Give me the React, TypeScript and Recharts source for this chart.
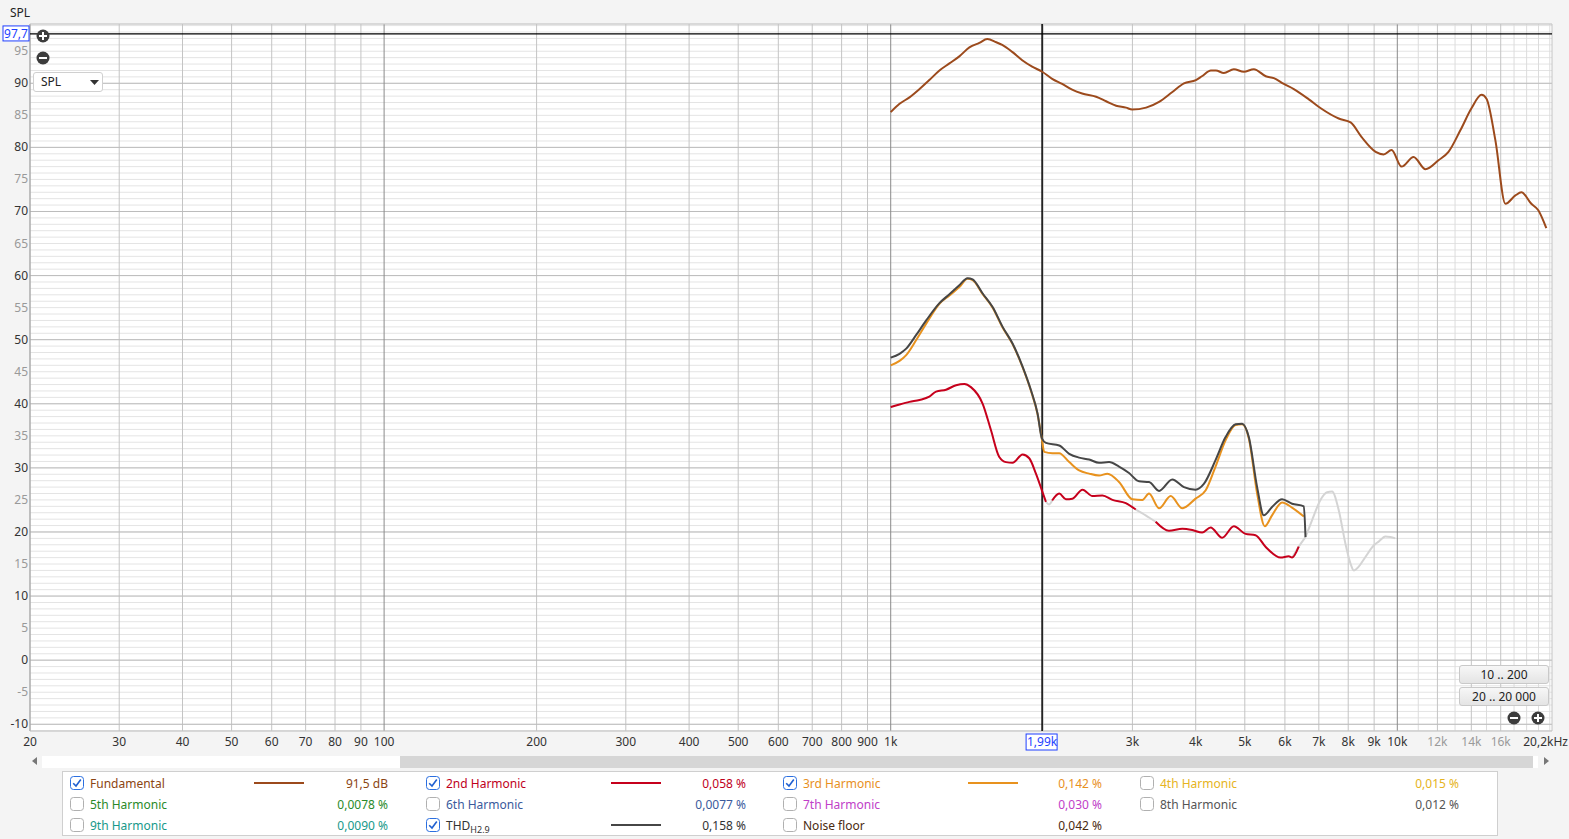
import React from "react";
import {
  LineChart,
  Line,
  XAxis,
  YAxis,
  CartesianGrid,
  ReferenceLine,
} from "recharts";

// frequency (Hz) / level (dB) pairs
const fundFreq = [
  1000, 1041, 1089, 1140, 1192, 1248, 1306, 1366, 1430, 1496, 1551, 1616, 1660,
  1737, 1818, 1902, 1991, 2083, 2180, 2281, 2387, 2544, 2662, 2786, 2915, 2996,
  3192, 3386, 3592, 3792, 4004, 4114, 4286, 4384, 4546, 4757, 4978, 5209, 5500,
  5706, 5971, 6248, 6689, 7062, 7663, 8089, 8504, 9063, 9398, 9744, 10196,
  10767, 11368, 12060, 12619, 13326, 14008, 14665, 14998, 15618, 16346, 17104,
  17576, 18388, 18982, 19684,
];
const fundDb = [
  85.5, 86.8, 87.8, 89.1, 90.5, 92.0, 93.1, 94.2, 95.6, 96.3, 96.9, 96.4, 96.0,
  94.9, 93.6, 92.6, 91.8, 90.7, 89.9, 89.0, 88.4, 87.9, 87.2, 86.5, 86.2, 85.9,
  86.2, 87.1, 88.6, 90.0, 90.5, 91.1, 92.0, 92.0, 91.6, 92.2, 91.8, 92.2, 91.1,
  90.8, 89.9, 89.1, 87.5, 86.1, 84.5, 83.9, 81.6, 79.3, 78.9, 79.6, 77.0, 78.5,
  76.6, 78.0, 79.3, 82.7, 86.1, 88.2, 87.6, 81.1, 71.2, 72.5, 73.0, 71.2, 70.2,
  67.4,
];

const thdFreq = [
  1000, 1041, 1073, 1122, 1175, 1248, 1306, 1366, 1418, 1451, 1519, 1589, 1663,
  1740, 1821, 1892, 1949, 1988, 2025, 2151, 2251, 2355, 2464, 2578, 2698, 2823,
  2954, 3092, 3235, 3386, 3596, 3792, 3998, 4151, 4377, 4581, 4794, 4940, 5092,
  5288, 5451, 5659, 5923, 6198, 6539, 6588,
];
const thdDb = [
  47.2, 47.8, 48.6, 50.7, 53.0, 55.7, 57.1, 58.5, 59.6, 59.4, 57.2, 55.1, 52.0,
  49.4, 45.8, 42.1, 38.5, 34.6, 33.9, 33.5, 32.2, 31.6, 31.3, 30.8, 30.9, 30.2,
  29.2, 27.9, 27.8, 26.4, 28.2, 27.0, 26.6, 27.5, 31.2, 34.8, 36.8, 36.9, 34.8,
  27.0, 22.6, 23.9, 25.1, 24.4, 24.0, 19.2,
];

// THD below the noise floor (drawn light grey)
const thdLowFreq = [
  6588, 6786, 7052, 7266, 7434, 7663, 7898, 8081, 8204, 8392, 8650, 8982, 9188,
  9472, 9690, 9910,
];
const thdLowDb = [
  19.2, 21.8, 25.0, 26.2, 26.3, 23.4, 18.2, 15.1, 14.0, 14.6, 16.1, 17.9, 18.5,
  19.3, 19.2, 19.0,
];

const h3Freq = [
  1000, 1041, 1073, 1122, 1175, 1248, 1306, 1366, 1418, 1451, 1519, 1589, 1663,
  1740, 1821, 1892, 1949, 1988, 2009, 2087, 2151, 2251, 2355, 2464, 2578, 2678,
  2823, 3000, 3139, 3235, 3386, 3570, 3764, 3998, 4186, 4377, 4581, 4794, 4940,
  5092, 5288, 5476, 5659, 5923, 6198, 6539,
];
const h3Db = [
  46.0, 46.7, 47.6, 49.9, 52.5, 55.6, 56.9, 58.2, 59.5, 59.3, 57.1, 55.0, 51.9,
  49.3, 45.7, 42.0, 38.4, 34.5, 32.5, 32.3, 32.3, 30.9, 29.6, 29.1, 28.8, 29.1,
  27.8, 25.1, 25.0, 26.0, 23.7, 25.6, 23.7, 25.2, 26.5, 30.2, 34.3, 36.7, 36.8,
  34.6, 26.0, 20.9, 22.6, 24.6, 23.8, 22.4,
];

const h2Freq = [
  1000, 1041, 1089, 1140, 1192, 1229, 1286, 1346, 1398, 1440, 1519, 1577, 1638,
  1689, 1740, 1821, 1877, 1935, 1988, 2025, 2055, 2083, 2151, 2217, 2284, 2391,
  2502, 2618, 2740, 2911, 3046, 3186, 3334, 3542, 3764, 3938, 4120, 4280, 4511,
  4757, 5017, 5249, 5493, 5881, 6105, 6198, 6388,
];
const h2Db = [
  39.5, 39.9, 40.3, 40.6, 41.1, 41.9, 42.2, 42.9, 43.1, 42.6, 40.0, 35.9, 31.7,
  30.9, 30.8, 32.1, 31.5, 29.1, 26.5, 24.7, null, 24.9, 26.0, 25.1, 25.2, 26.6,
  25.6, 25.7, 25.0, 24.5, 23.5, null, 21.6, 20.2, 20.5, 20.3, 19.9, 20.7, 19.1,
  20.9, 19.7, 19.5, 17.7, 16.0, 16.2, 16.0, 17.7,
];

// 2nd harmonic stretches under the noise floor (null = break)
const h2LowFreq = [2025, 2055, 2083, 2500, 3046, 3186, 3334, 4500, 6198, 6388, 6588];
const h2LowDb = [24.7, 24.3, 24.9, null, 23.5, 22.6, 21.6, null, 16.0, 17.7, 19.2];

const xTicks = [
  20, 30, 40, 50, 60, 70, 80, 90, 100, 200, 300, 400, 500, 600, 700, 800, 900,
  1000, 2000, 3000, 4000, 5000, 6000, 7000, 8000, 9000, 10000, 11000, 12000,
  13000, 14000, 15000, 16000, 17000, 18000, 19000, 20000, 20200,
];
const xLabels: Record<number, string> = {
  20: "20", 30: "30", 40: "40", 50: "50", 60: "60", 70: "70", 80: "80",
  90: "90", 100: "100", 200: "200", 300: "300", 400: "400", 500: "500",
  600: "600", 700: "700", 800: "800", 900: "900", 1000: "1k", 3000: "3k",
  4000: "4k", 5000: "5k", 6000: "6k", 7000: "7k", 8000: "8k", 9000: "9k",
  10000: "10k", 12000: "12k", 14000: "14k", 16000: "16k", 20200: "20,2kHz",
};
const xGreyLabels = [12000, 14000, 16000];
const xDecades = [100, 1000, 10000];

const yTicks = Array.from({ length: 111 }, (_, i) => i - 11);
const yMajor = [-10, 0, 10, 20, 30, 40, 50, 60, 70, 80, 90];

const cursorFreq = 1990;
const cursorDb = 97.7;

const FONT = "'Noto Sans', 'Open Sans', sans-serif";
const C_FUND = "#9c4a1c";
const C_H2 = "#c6001c";
const C_H3 = "#e8921e";
const C_THD = "#464646";
const C_LOW = "#d4d4d4";
const BLUE = "#1f3fff";

const pts = (f: number[], v: (number | null)[]) =>
  f.map((x, i) => ({ f: x, db: v[i] }));

function XTick({ x, y, payload }: any) {
  const v = payload.value;
  const lab = xLabels[v];
  if (!lab) return <g />;
  const fill = xGreyLabels.includes(v) ? "#9a9a9a" : "#333";
  if (v === 20200)
    return (
      <text x={x + 16} y={y + 15} textAnchor="end" fontSize={12} fill="#333" fontFamily={FONT}>
        {lab}
      </text>
    );
  return (
    <text x={x} y={y + 15} textAnchor="middle" fontSize={12} fill={fill} fontFamily={FONT}>
      {lab}
    </text>
  );
}

function YTick({ x, y, payload }: any) {
  const v = payload.value;
  if (v % 5 !== 0 || v > 95) return <g />;
  return (
    <text
      x={x}
      y={y}
      dy={4}
      textAnchor="end"
      fontSize={12}
      fill={v % 10 === 0 ? "#333" : "#999"}
      fontFamily={FONT}
    >
      {v}
    </text>
  );
}

function CursorXLabel({ viewBox }: any) {
  const cx = viewBox.x;
  const by = viewBox.y + viewBox.height;
  return (
    <g>
      <rect x={cx - 16} y={by + 3} width={31} height={16} fill="#fff" stroke={BLUE} />
      <text x={cx} y={by + 15} textAnchor="middle" fontSize={12} fill={BLUE} fontFamily={FONT}>
        1,99k
      </text>
    </g>
  );
}

function CursorYLabel({ viewBox }: any) {
  const cy = viewBox.y;
  return (
    <g>
      <rect x={3} y={cy - 8} width={26} height={15} fill="#fff" stroke={BLUE} />
      <text x={16} y={cy + 4} textAnchor="middle" fontSize={12} fill={BLUE} fontFamily={FONT}>
        97,7
      </text>
    </g>
  );
}

function RoundBtn({ x, y, plus }: { x: number; y: number; plus?: boolean }) {
  return (
    <svg
      width={14}
      height={14}
      style={{ position: "absolute", left: x - 7, top: y - 7 }}
    >
      <circle cx={7} cy={7} r={6.5} fill="#3c3c3c" />
      <rect x={3} y={6} width={8} height={2} fill="#fff" />
      {plus && <rect x={6} y={3} width={2} height={8} fill="#fff" />}
    </svg>
  );
}

function Check({ x, y, on }: { x: number; y: number; on?: boolean }) {
  return (
    <svg
      width={14}
      height={14}
      style={{ position: "absolute", left: x - 7, top: y - 7 }}
    >
      <rect
        x={0.5}
        y={0.5}
        width={13}
        height={13}
        rx={3}
        fill="#fff"
        stroke={on ? "#2b6fe0" : "#b0b0b0"}
      />
      {on && (
        <path d="M3.2 7.2 L6 10 L10.8 3.6" fill="none" stroke="#1f5fd0" strokeWidth={1.6} />
      )}
    </svg>
  );
}

type Entry = {
  cx: number;
  row: number;
  on?: boolean;
  name: React.ReactNode;
  color: string;
  line?: string;
  lineX?: number;
  value: string;
  valueRight: number;
};

const legendEntries: Entry[] = [
  { cx: 77, row: 0, on: true, name: "Fundamental", color: "#8b4513", line: C_FUND, lineX: 254, value: "91,5 dB", valueRight: 388 },
  { cx: 77, row: 1, name: "5th Harmonic", color: "#2a8a2a", value: "0,0078 %", valueRight: 388 },
  { cx: 77, row: 2, name: "9th Harmonic", color: "#17998a", value: "0,0090 %", valueRight: 388 },
  { cx: 433, row: 0, on: true, name: "2nd Harmonic", color: "#c0001c", line: C_H2, lineX: 611, value: "0,058 %", valueRight: 746 },
  { cx: 433, row: 1, name: "6th Harmonic", color: "#3a5a9c", value: "0,0077 %", valueRight: 746 },
  {
    cx: 433, row: 2, on: true,
    name: (
      <span>
        THD<sub style={{ fontSize: 9 }}>H2.9</sub>
      </span>
    ),
    color: "#333", line: C_THD, lineX: 611, value: "0,158 %", valueRight: 746,
  },
  { cx: 790, row: 0, on: true, name: "3rd Harmonic", color: "#e8901e", line: C_H3, lineX: 968, value: "0,142 %", valueRight: 1102 },
  { cx: 790, row: 1, name: "7th Harmonic", color: "#c040c8", value: "0,030 %", valueRight: 1102 },
  { cx: 790, row: 2, name: "Noise floor", color: "#4a2a10", value: "0,042 %", valueRight: 1102 },
  { cx: 1147, row: 0, name: "4th Harmonic", color: "#e6b422", value: "0,015 %", valueRight: 1459 },
  { cx: 1147, row: 1, name: "8th Harmonic", color: "#555", value: "0,012 %", valueRight: 1459 },
];

const rowY = [784, 805, 826];

function LegendBox() {
  return (
    <>
      <div
        style={{
          position: "absolute",
          left: 62,
          top: 771,
          width: 1436,
          height: 65,
          background: "#fff",
          border: "1px solid #cfcfcf",
          boxSizing: "border-box",
        }}
      />
      {legendEntries.map((e, i) => {
        const y = rowY[e.row];
        return (
          <React.Fragment key={i}>
            <Check x={e.cx} y={y - 1} on={e.on} />
            <div
              style={{
                position: "absolute",
                left: e.cx + 13,
                top: y - 9,
                lineHeight: "18px",
                fontSize: 12,
                color: e.color,
                whiteSpace: "nowrap",
              }}
            >
              {e.name}
            </div>
            {e.line && (
              <div
                style={{
                  position: "absolute",
                  left: e.lineX,
                  top: y - 2,
                  width: 50,
                  height: 2,
                  background: e.line,
                }}
              />
            )}
            <div
              style={{
                position: "absolute",
                left: e.valueRight - 120,
                width: 120,
                top: y - 9,
                lineHeight: "18px",
                fontSize: 12,
                color: e.color,
                textAlign: "right",
                whiteSpace: "nowrap",
              }}
            >
              {e.value}
            </div>
          </React.Fragment>
        );
      })}
    </>
  );
}

const btn: React.CSSProperties = {
  position: "absolute",
  left: 1459,
  width: 90,
  height: 19,
  boxSizing: "border-box",
  border: "1px solid #c9c9c9",
  borderRadius: 3,
  background: "linear-gradient(#f7f7f7, #e4e4e4)",
  fontSize: 12,
  lineHeight: "17px",
  textAlign: "center",
  color: "#222",
};

export default function App() {
  return (
    <div
      style={{
        position: "absolute",
        left: 0,
        top: 0,
        width: 1569,
        height: 839,
        background: "#f4f4f4",
        fontFamily: FONT,
        overflow: "hidden",
      }}
    >
      <div style={{ position: "absolute", left: 10, top: 4, fontSize: 12, color: "#222" }}>
        SPL
      </div>

      <LineChart
        width={1569}
        height={839}
        margin={{ top: 24, right: 17, bottom: 78, left: 0 }}
      >
        <CartesianGrid
          vertical={false}
          stroke="#e4e4e4"
          fill="#ffffff"
          fillOpacity={1}
        />
        <XAxis
          dataKey="f"
          type="number"
          scale="log"
          domain={[20, 20200]}
          allowDataOverflow
          ticks={xTicks}
          interval={0}
          tick={<XTick />}
          tickLine={false}
          axisLine={false}
          tickSize={0}
          tickMargin={0}
          height={30}
        />
        <YAxis
          type="number"
          domain={[-11.05, 99.25]}
          allowDataOverflow
          ticks={yTicks}
          interval={0}
          tick={<YTick />}
          tickLine={false}
          axisLine={false}
          tickSize={0}
          tickMargin={2}
          width={30}
        />

        {xTicks
          .filter((t) => t !== 20200 && !xDecades.includes(t))
          .map((t) => (
            <ReferenceLine
              key={"vx" + t}
              x={t}
              stroke={xLabels[t] || t === 2000 ? "#c4c4c4" : "#dcdcdc"}
            />
          ))}
        {yMajor.map((v) => (
          <ReferenceLine key={"hy" + v} y={v} stroke="#bcbcbc" />
        ))}
        {xDecades.map((t) => (
          <ReferenceLine key={"dx" + t} x={t} stroke="#8a8a8a" />
        ))}
        <ReferenceLine x={20} stroke="#a0a0a0" />
        <ReferenceLine x={20200} stroke="#c4c4c4" />
        <ReferenceLine y={99.25} stroke="#c4c4c4" />
        <ReferenceLine y={-11.05} stroke="#c4c4c4" />

        <ReferenceLine
          y={cursorDb}
          stroke="#000"
          strokeWidth={1.3}
          label={(p: any) => <CursorYLabel viewBox={p.viewBox} />}
        />
        <ReferenceLine
          x={cursorFreq}
          stroke="#000"
          strokeWidth={1.5}
          label={(p: any) => <CursorXLabel viewBox={p.viewBox} />}
        />

        <Line
          data={pts(fundFreq, fundDb)}
          dataKey="db"
          type="monotone"
          stroke={C_FUND}
          strokeWidth={2}
          dot={false}
          isAnimationActive={false}
        />
        <Line
          data={pts(thdLowFreq, thdLowDb)}
          dataKey="db"
          type="monotone"
          stroke={C_LOW}
          strokeWidth={2}
          dot={false}
          isAnimationActive={false}
        />
        <Line
          data={pts(h2LowFreq, h2LowDb)}
          dataKey="db"
          type="monotone"
          stroke={C_LOW}
          strokeWidth={2}
          dot={false}
          connectNulls={false}
          isAnimationActive={false}
        />
        <Line
          data={pts(h2Freq, h2Db)}
          dataKey="db"
          type="monotone"
          stroke={C_H2}
          strokeWidth={2}
          dot={false}
          connectNulls={false}
          isAnimationActive={false}
        />
        <Line
          data={pts(h3Freq, h3Db)}
          dataKey="db"
          type="monotone"
          stroke={C_H3}
          strokeWidth={2}
          dot={false}
          isAnimationActive={false}
        />
        <Line
          data={pts(thdFreq, thdDb)}
          dataKey="db"
          type="monotone"
          stroke={C_THD}
          strokeWidth={2}
          dot={false}
          isAnimationActive={false}
        />
      </LineChart>

      <RoundBtn x={43} y={36} plus />
      <RoundBtn x={43} y={58} />
      <div
        style={{
          position: "absolute",
          left: 33,
          top: 72,
          width: 70,
          height: 20,
          boxSizing: "border-box",
          background: "#fff",
          border: "1px solid #d0d0d0",
          borderRadius: 3,
          fontSize: 12,
          lineHeight: "18px",
          paddingLeft: 7,
          color: "#222",
        }}
      >
        SPL
        <svg width={10} height={6} style={{ position: "absolute", left: 56, top: 7 }}>
          <path d="M0 0 L9 0 L4.5 5 Z" fill="#333" />
        </svg>
      </div>

      <div style={{ ...btn, top: 665 }}>10 .. 200</div>
      <div style={{ ...btn, top: 687 }}>20 .. 20 000</div>
      <RoundBtn x={1514} y={718} />
      <RoundBtn x={1538} y={718} plus />

      {/* scroll bar */}
      <div style={{ position: "absolute", left: 42, top: 756, width: 1496, height: 12, background: "#fff" }} />
      <div style={{ position: "absolute", left: 400, top: 756, width: 1133, height: 12, background: "#d6d6d6" }} />
      <svg width={8} height={10} style={{ position: "absolute", left: 31, top: 756 }}>
        <path d="M6 1 L1 5 L6 9 Z" fill="#777" />
      </svg>
      <svg width={8} height={10} style={{ position: "absolute", left: 1543, top: 756 }}>
        <path d="M1 1 L6 5 L1 9 Z" fill="#777" />
      </svg>

      <LegendBox />
    </div>
  );
}
